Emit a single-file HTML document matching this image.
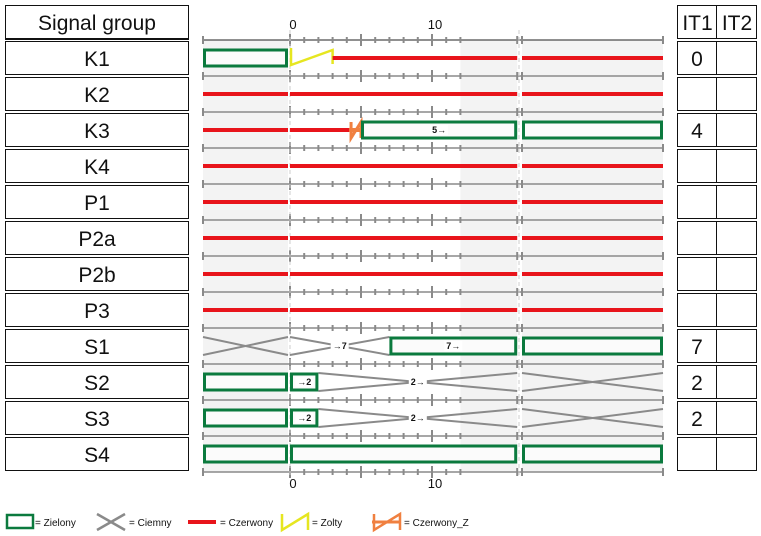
<!DOCTYPE html>
<html><head><meta charset="utf-8"><style>
html,body{margin:0;padding:0;background:#fff;}
svg{display:block;font-family:"Liberation Sans",sans-serif;}
</style></head><body>
<svg id="c" width="761" height="536" viewBox="0 0 761 536"></svg>
<script>
const signals=["K1","K2","K3","K4","P1","P2a","P2b","P3","S1","S2","S3","S4"];
const it1=["0","","4","","","","","","7","2","2",""];
const leftState=["G","R","R","R","R","R","R","R","D","G","G","G"];
const rightState=["R","R","G","R","R","R","R","R","G","D","D","G"];
// mid segments: [row, type, start, end, label]
const segRows=[0,0,1,2,2,2,3,4,5,6,7,8,8,9,9,10,10,11];
const segTypes=["Y","R","R","R","Z","G","R","R","R","R","R","D","G","G","D","G","D","G"];
const segStart=[0,3,0,0,4.3,5,0,0,0,0,0,0,7,0,2,0,2,0];
const segEnd=[3,16,16,4.3,5,16,16,16,16,16,16,7,16,2,16,2,16,16];
const segLabels=["","","","","","5\u2192","","","","","","\u21927","7\u2192","\u21922","2\u2192","\u21922","2\u2192",""];
const tickVals=[0,1,2,3,4,5,6,7,8,9,10,11,12];
const axisLabels=[0,10];

const NS="http://www.w3.org/2000/svg";
const svg=document.getElementById('c');
function el(t,a,p){const e=document.createElementNS(NS,t);for(const k in a)e.setAttribute(k,a[k]);(p||svg).appendChild(e);return e;}
const x=t=>290+t*14.2;
const rowTop=i=>40+36*i;
const rowC=i=>58+36*i;
const L0=203,L1=288,R0=522,R1=663,MEND=x(16);
const GREEN="#0b7a3e",RED="#e8141b",GREY="#8a8a8a";

// backgrounds
let b=el('rect',{x:L0,y:40,width:L1-L0,height:432,fill:"#f3f3f3"});

b=el('rect',{x:x(12),y:40,width:MEND-x(12),height:432,fill:"#f3f3f3"});

b=el('rect',{x:R0,y:40,width:R1-R0,height:432,fill:"#f3f3f3"});


// axes per row boundary
for(let i=0;i<=12;i++){
  const y=rowTop(i);
  const g=el('g',{});
  
  
  el('line',{x1:L0,y1:y,x2:R1,y2:y,stroke:i==0?"#222":GREY,"stroke-width":i==0?1:1.5},g);
  tickVals.forEach(v=>{const big=v%5==0;el('line',{x1:x(v),y1:y-(big?6:3),x2:x(v),y2:y+(big?6:3),stroke:GREY,"stroke-width":2},g);});
  [L0,MEND,R0,R1].forEach(xx=>el('line',{x1:xx,y1:y-4,x2:xx,y2:y+4,stroke:GREY,"stroke-width":2},g));
}
// dashed separators
b=el('line',{x1:290,y1:30,x2:290,y2:478,stroke:"#ccc","stroke-dasharray":"4,3"});

b=el('line',{x1:519,y1:30,x2:519,y2:478,stroke:"#ccc","stroke-dasharray":"4,3"});

axisLabels.forEach(v=>{
  let t=el('text',{x:x(v)+3,y:29,"font-size":13,"text-anchor":"middle",fill:"#111"});t.textContent=v;
  
  t=el('text',{x:x(v)+3,y:488,"font-size":13,"text-anchor":"middle",fill:"#111"});t.textContent=v;
  
});

function drawState(type,x0,x1,r,label){
  const cy=rowC(r);const g=el('g',{});
  
  
  if(type=="R"){el('line',{x1:x0,y1:cy,x2:x1,y2:cy,stroke:RED,"stroke-width":4},g);}
  else if(type=="G"){el('rect',{x:x0+1.5,y:cy-8,width:x1-x0-3,height:16,fill:"#fbfbfb",stroke:GREEN,"stroke-width":3},g);}
  else if(type=="D"){el('line',{x1:x0,y1:cy-9,x2:x1,y2:cy+9,stroke:GREY,"stroke-width":2},g);el('line',{x1:x0,y1:cy+9,x2:x1,y2:cy-9,stroke:GREY,"stroke-width":2},g);}
  else if(type=="Y"){el('polyline',{points:`${x0+1},${cy-10} ${x0+1},${cy+7} ${x1},${cy-8} ${x1},${cy+6}`,fill:"none",stroke:"#e6e620","stroke-width":2.5},g);}
  else if(type=="Z"){el('line',{x1:x0-2,y1:cy,x2:x1,y2:cy,stroke:"#f08040","stroke-width":4},g);el('polyline',{points:`${x0},${cy-8} ${x0},${cy+8} ${x1},${cy-8} ${x1},${cy+8}`,fill:"none",stroke:"#f08040","stroke-width":3},g);}
  if(label){const w=label.length*6+6;el('rect',{x:(x0+x1)/2-w/2,y:cy-5,width:w,height:10,fill:"#fff"},g);
    const t=el('text',{x:(x0+x1)/2,y:cy+3,"font-size":9,"font-weight":"bold","text-anchor":"middle",fill:"#111"},g);t.textContent=label;}
}
for(let r=0;r<12;r++){drawState(leftState[r],L0,L1,r,"");drawState(rightState[r],R0,R1,r,"");}
for(let i=0;i<segRows.length;i++){drawState(segTypes[i],x(segStart[i]),x(segEnd[i]),segRows[i],segLabels[i]);}

// left table
let h=el('rect',{x:5.5,y:5.5,width:183,height:33,fill:"#fff",stroke:"#111"});

let ht=el('text',{x:97,y:30,"font-size":21,"text-anchor":"middle",fill:"#111"});ht.textContent="Signal group";

el('line',{x1:5,y1:39,x2:189,y2:39,stroke:"#111","stroke-width":2});
[["IT1",677,716],["IT2",716,756]].forEach(([n,a,bb])=>{
  const r=el('rect',{x:a+0.5,y:5.5,width:bb-a,height:33,fill:"#fff",stroke:"#111"});
  
  const t=el('text',{x:(a+bb)/2+1,y:30,"font-size":21,"text-anchor":"middle",fill:"#111"});t.textContent=n;
  
});
signals.forEach((s,i)=>{
  const y=rowTop(i)+1;
  const r=el('rect',{x:5.5,y:y+0.5,width:183,height:33,fill:"#fff",stroke:"#111"});
  
  const t=el('text',{x:97,y:y+25,"font-size":21,"text-anchor":"middle",fill:"#111"});t.textContent=s;
  
  const c1=el('rect',{x:677.5,y:y+0.5,width:39,height:33,fill:"#fff",stroke:"#111"});
  
  const c2=el('rect',{x:716.5,y:y+0.5,width:40,height:33,fill:"#fff",stroke:"#111"});
  
  if(it1[i]){const v=el('text',{x:697,y:y+25,"font-size":21,"text-anchor":"middle",fill:"#111"});v.textContent=it1[i];
    }
});

// legend
const legend=[["G","= Zielony",7],["D","= Ciemny",97],["R","= Czerwony",188],["Y","= Zolty",280],["Z","= Czerwony_Z",372]];
legend.forEach(([t,lab,lx])=>{
  const g=el('g',{});
  const cy=522;
  if(t=="G")el('rect',{x:lx,y:cy-7,width:26,height:13,fill:"#fff",stroke:GREEN,"stroke-width":2.5},g);
  if(t=="D"){el('line',{x1:lx,y1:cy-8,x2:lx+28,y2:cy+8,stroke:GREY,"stroke-width":2.5},g);el('line',{x1:lx,y1:cy+8,x2:lx+28,y2:cy-8,stroke:GREY,"stroke-width":2.5},g);}
  if(t=="R")el('line',{x1:lx,y1:cy,x2:lx+28,y2:cy,stroke:RED,"stroke-width":4},g);
  if(t=="Y")el('polyline',{points:`${lx+2},${cy-8} ${lx+2},${cy+8} ${lx+28},${cy-8} ${lx+28},${cy+8}`,fill:"none",stroke:"#e6e620","stroke-width":2.5},g);
  if(t=="Z"){el('line',{x1:lx,y1:cy,x2:lx+28,y2:cy,stroke:"#f08040","stroke-width":3},g);el('polyline',{points:`${lx+2},${cy-8} ${lx+2},${cy+8} ${lx+28},${cy-8} ${lx+28},${cy+8}`,fill:"none",stroke:"#f08040","stroke-width":2.5},g);}
  const tx=el('text',{x:lx+(t=="G"?28:32),y:cy+4,"font-size":10,fill:"#111"},g);tx.textContent=lab;
});
</script>
</body></html>
